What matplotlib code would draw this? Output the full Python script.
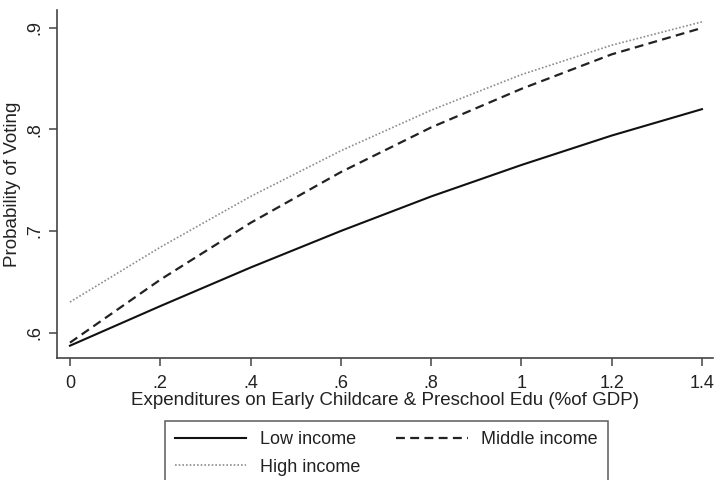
import matplotlib
matplotlib.use("Agg")
import matplotlib.pyplot as plt

plt.rcParams['font.family'] = ['Liberation Sans', 'DejaVu Sans']

# Spending on early childcare & preschool education (% of GDP)
spending = [0.0, 0.2, 0.4, 0.6, 0.8, 1.0, 1.2, 1.4]

# Predicted probability of voting by income group
low_income = [0.587, 0.626, 0.664, 0.700, 0.734, 0.765, 0.794, 0.820]
middle_income = [0.590, 0.652, 0.708, 0.758, 0.802, 0.840, 0.874, 0.900]
high_income = [0.630, 0.684, 0.734, 0.779, 0.819, 0.854, 0.883, 0.906]

x_ticks = [0, 0.2, 0.4, 0.6, 0.8, 1.0, 1.2, 1.4]
x_tick_labels = ["0", ".2", ".4", ".6", ".8", "1", "1.2", "1.4"]
y_ticks = [0.6, 0.7, 0.8, 0.9]
y_tick_labels = [".6", ".7", ".8", ".9"]

fig = plt.figure(figsize=(7.14, 4.8), dpi=100)
ax = fig.add_axes([0.0798, 0.2542, 0.9188, 0.7250])

h_low, = ax.plot(spending, low_income, color="#111111", lw=1.5, ls="-", label="Low income")
h_mid, = ax.plot(spending, middle_income, color="#222222", lw=1.6, ls=(0, (4, 2.4)),
                 label="Middle income")
h_high, = ax.plot(spending, high_income, color="#8c8c8c", lw=1.2, ls=(0, (1, 1.2)),
                  label="High income")

ax.set_xlim(-0.0288, 1.4245)
ax.set_ylim(0.5749, 0.9177)
ax.set_xticks(x_ticks)
ax.set_xticklabels(x_tick_labels)
ax.set_yticks(y_ticks)
ax.set_yticklabels(y_tick_labels, rotation=90, va="center")

for s in ["top", "right"]:
    ax.spines[s].set_visible(False)
for s in ["left", "bottom"]:
    ax.spines[s].set_color("#444444")
    ax.spines[s].set_linewidth(1.2)

ax.tick_params(axis="both", direction="out", length=5.5, width=1.1, color="#444444",
               labelsize=13, labelcolor="#222222")
ax.tick_params(axis="x", pad=7)
ax.tick_params(axis="y", pad=4)

ax.set_xlabel("Expenditures on Early Childcare & Preschool Edu (%of GDP)",
              fontsize=13.5, color="#222222", labelpad=0)
ax.set_ylabel("Probability of Voting", fontsize=13.5, color="#222222", labelpad=4)

# two-column legend, filled row by row: Low | Middle, then High
leg = fig.legend([h_low, h_high, h_mid], ["Low income", "High income", "Middle income"],
                 loc="upper left", bbox_to_anchor=(0.2311, 0.1229), ncol=2,
                 fontsize=13, frameon=True, fancybox=False, edgecolor="#333333",
                 handlelength=3.95, columnspacing=2.0, handletextpad=0.75,
                 borderpad=0.55, labelspacing=0.6, borderaxespad=0)
leg.get_frame().set_linewidth(1.1)
for t in leg.get_texts():
    t.set_color("#222222")

fig.savefig("out.png", dpi=100)
